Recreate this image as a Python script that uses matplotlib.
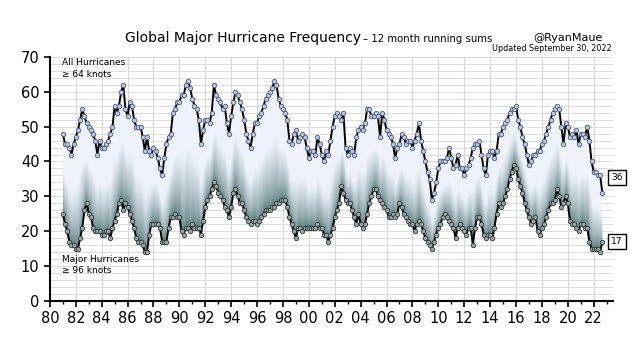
import numpy as np
import pandas as pd
import matplotlib
matplotlib.use("Agg")
import matplotlib.pyplot as plt
from matplotlib.colors import to_rgb

# 12-month running sums, sampled every 2 months (Jan, Mar, May, Jul, Sep, Nov)
all_hurr = [
    48, 45, 45, 44, 42, 45,   # 1981
    47, 49, 52, 55, 53, 51,   # 1982
    50, 49, 48, 46, 42, 46,   # 1983
    44, 44, 45, 46, 48, 50,   # 1984
    56, 54, 56, 60, 62, 55,   # 1985
    53, 57, 56, 52, 50, 50,   # 1986
    50, 47, 43, 47, 43, 42,   # 1987
    44, 43, 41, 38, 36, 41,   # 1988
    45, 47, 48, 54, 55, 57,   # 1989
    57, 59, 59, 62, 63, 61,   # 1990
    58, 56, 55, 52, 45, 49,   # 1991
    52, 52, 51, 54, 62, 59,   # 1992
    58, 57, 55, 56, 51, 48,   # 1993
    53, 57, 60, 59, 57, 55,   # 1994
    52, 48, 46, 44, 48, 51,   # 1995
    51, 53, 54, 56, 58, 59,   # 1996
    60, 61, 63, 62, 58, 56,   # 1997
    55, 54, 52, 46, 45, 48,   # 1998
    49, 46, 47, 48, 47, 44,   # 1999
    41, 43, 43, 42, 47, 45,   # 2000
    42, 40, 43, 42, 46, 50,   # 2001
    53, 54, 53, 52, 54, 44,   # 2002
    42, 44, 43, 42, 47, 49,   # 2003
    50, 49, 51, 55, 55, 53,   # 2004
    53, 54, 53, 47, 54, 52,   # 2005
    49, 48, 47, 45, 41, 44,   # 2006
    45, 48, 47, 45, 46, 46,   # 2007
    44, 46, 48, 51, 46, 43,   # 2008
    40, 37, 35, 29, 31, 34,   # 2009
    38, 40, 40, 40, 41, 44,   # 2010
    41, 38, 39, 42, 38, 38,   # 2011
    36, 38, 39, 41, 44, 45,   # 2012
    45, 46, 42, 38, 36, 42,   # 2013
    43, 43, 41, 43, 48, 48,   # 2014
    50, 51, 52, 54, 55, 55,   # 2015
    56, 52, 50, 47, 45, 42,   # 2016
    39, 40, 42, 42, 43, 43,   # 2017
    45, 46, 48, 50, 52, 54,   # 2018
    55, 56, 55, 50, 45, 51,   # 2019
    50, 47, 48, 47, 49, 45,   # 2020
    48, 48, 47, 50, 46, 40,   # 2021
    37, 37, 36, 36, 31,       # 2022
]

major_hurr = [
    25, 22, 20, 17, 16, 16,   # 1981
    15, 15, 18, 21, 26, 28,   # 1982
    25, 24, 21, 20, 20, 20,   # 1983
    19, 19, 20, 20, 18, 21,   # 1984
    23, 25, 28, 29, 26, 28,   # 1985
    27, 25, 23, 21, 18, 17,   # 1986
    17, 16, 14, 14, 19, 22,   # 1987
    22, 22, 22, 21, 17, 17,   # 1988
    17, 21, 24, 24, 25, 24,   # 1989
    24, 20, 19, 21, 21, 20,   # 1990
    22, 21, 21, 21, 19, 23,   # 1991
    27, 29, 30, 32, 34, 33,   # 1992
    31, 30, 29, 27, 26, 24,   # 1993
    27, 31, 32, 30, 28, 28,   # 1994
    26, 24, 23, 22, 23, 23,   # 1995
    22, 23, 24, 25, 26, 26,   # 1996
    26, 27, 27, 28, 28, 29,   # 1997
    29, 29, 27, 24, 22, 20,   # 1998
    18, 21, 21, 20, 21, 21,   # 1999
    21, 21, 21, 21, 22, 21,   # 2000
    21, 19, 19, 17, 19, 21,   # 2001
    24, 26, 28, 33, 31, 29,   # 2002
    28, 28, 26, 24, 22, 25,   # 2003
    22, 21, 22, 25, 28, 30,   # 2004
    32, 32, 30, 29, 28, 27,   # 2005
    26, 24, 24, 25, 24, 25,   # 2006
    28, 27, 25, 24, 23, 22,   # 2007
    22, 20, 22, 23, 22, 20,   # 2008
    18, 17, 16, 15, 17, 19,   # 2009
    21, 22, 24, 25, 24, 23,   # 2010
    22, 21, 18, 21, 22, 21,   # 2011
    20, 19, 21, 21, 16, 21,   # 2012
    24, 24, 22, 19, 18, 19,   # 2013
    19, 18, 21, 25, 28, 27,   # 2014
    28, 30, 32, 35, 37, 39,   # 2015
    38, 35, 33, 31, 28, 26,   # 2016
    24, 22, 23, 24, 20, 19,   # 2017
    21, 22, 24, 26, 28, 28,   # 2018
    29, 32, 30, 27, 28, 30,   # 2019
    28, 23, 22, 22, 21, 20,   # 2020
    22, 22, 21, 21, 17, 15,   # 2021
    15, 15, 15, 14, 17,       # 2022
]

latest_all = 36
latest_major = 17
xtick_years = list(range(1980, 2023, 2))
xtick_labels = [str(y)[2:] for y in xtick_years]

dates = pd.date_range("1981-01-01", "2022-09-01", freq="2MS")
x = dates.year + (dates.month - 1) / 12.0
upper = np.array(all_hurr, dtype=float)
lower = np.array(major_hurr, dtype=float)

fig = plt.figure(figsize=(6.4, 3.6), dpi=100)
ax = fig.add_axes([0.078, 0.164, 0.880, 0.678])

# gradient fill between the two series (dark near the majors, light toward the top)
xs = np.linspace(x[0], x[-1], 900)
lo = np.interp(xs, x, lower)
hi = np.interp(xs, x, upper)
ys = np.linspace(0, 70, 600)
T = (ys[:, None] - lo[None, :]) / (hi - lo)[None, :]
T = np.clip(T / 0.55, 0, 1) ** 0.6
dark = np.array(to_rgb("#4b7173"))
light = np.array(to_rgb("#eef3fb"))
img = dark[None, None, :] * (1 - T[..., None]) + light[None, None, :] * T[..., None]
poly = ax.fill_between(x, lower, upper, facecolor="none", edgecolor="none")
im = ax.imshow(img, extent=[xs[0], xs[-1], 0, 70], origin="lower",
               aspect="auto", zorder=1, interpolation="bilinear")
im.set_clip_path(poly.get_paths()[0], transform=ax.transData)

ax.plot(x, upper, color="black", lw=1.4, zorder=3,
        marker="o", ms=3.2, mfc="#b9c9e6", mec="#4f5b78", mew=0.6)
ax.plot(x, lower, color="black", lw=1.4, zorder=3,
        marker="o", ms=3.2, mfc="#9aa7a6", mec="#2f3a3a", mew=0.6)

ax.set_xlim(1980, 2023.5)
ax.set_ylim(0, 70)
ax.set_xticks(xtick_years)
ax.set_xticklabels(xtick_labels)
ax.set_xticks(range(1980, 2024), minor=True)
ax.set_yticks(range(0, 71, 10))
ax.set_yticks(range(0, 71, 2), minor=True)
ax.tick_params(axis="both", which="major", labelsize=10.5, length=4, width=1.2,
               direction="out", colors="black")
ax.tick_params(axis="y", which="minor", length=0)
ax.tick_params(axis="x", which="minor", length=2.5, width=1)
ax.grid(True, which="major", axis="x", color="#d6d6d6", lw=0.8, zorder=0)
ax.grid(True, which="minor", axis="y", color="#dcdcdc", lw=0.7, zorder=0)
ax.grid(True, which="major", axis="y", color="#dcdcdc", lw=0.7, zorder=0)
ax.set_axisbelow(True)
for s in ["top", "right"]:
    ax.spines[s].set_visible(False)
for s in ["left", "bottom"]:
    ax.spines[s].set_linewidth(1.5)

ax.text(1980.9, 69.6, "All Hurricanes\n\u2265 64 knots", fontsize=6.5,
        va="top", ha="left", linespacing=1.35, zorder=5)
ax.text(1980.9, 13.3, "Major Hurricanes\n\u2265 96 knots", fontsize=6.5,
        va="top", ha="left", linespacing=1.35, zorder=5)

box = dict(boxstyle="square,pad=0.35", fc="white", ec="black", lw=1)
ax.text(2023.8, 35.5, str(latest_all), fontsize=6.5, ha="center", va="center",
        bbox=box, zorder=6, clip_on=False)
ax.text(2023.8, 17, str(latest_major), fontsize=6.5, ha="center", va="center",
        bbox=box, zorder=6, clip_on=False)

fig.text(0.195, 0.894, "Global Major Hurricane Frequency", fontsize=10,
         ha="left", va="center")
fig.text(0.567, 0.891, "\u2013 12 month running sums", fontsize=7.3,
         ha="left", va="center")
fig.text(0.942, 0.894, "@RyanMaue", fontsize=8, ha="right", va="center")
fig.text(0.956, 0.866, "Updated September 30, 2022", fontsize=5.8,
         ha="right", va="center")

fig.savefig("out.png", dpi=100, facecolor="white")
